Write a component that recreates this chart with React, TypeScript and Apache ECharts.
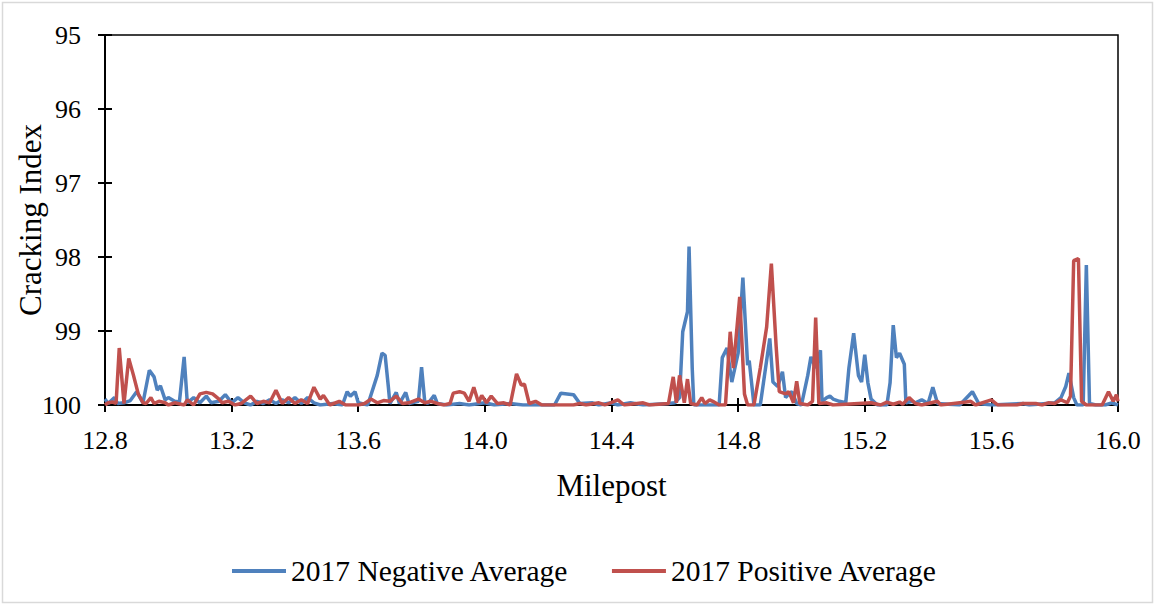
import React, { useEffect, useRef } from "react";
import * as echarts from "echarts";

const negMileposts = [12.80,12.81,12.83,12.84,12.86,12.88,12.90,12.92,12.94,12.955,12.965,12.975,12.99,13.00,13.02,13.035,13.05,13.06,13.08,13.10,13.12,13.135,13.16,13.18,13.20,13.22,13.24,13.26,13.28,13.30,13.32,13.34,13.36,13.38,13.40,13.42,13.44,13.46,13.48,13.52,13.55,13.565,13.575,13.59,13.60,13.63,13.66,13.675,13.685,13.695,13.70,13.72,13.73,13.75,13.76,13.79,13.80,13.81,13.82,13.84,13.85,13.88,13.92,13.95,14.00,14.03,14.08,14.12,14.22,14.24,14.26,14.28,14.30,14.34,14.36,14.40,14.42,14.46,14.50,14.58,14.60,14.615,14.625,14.64,14.645,14.655,14.66,14.74,14.75,14.765,14.78,14.80,14.815,14.83,14.835,14.85,14.87,14.88,14.90,14.91,14.925,14.94,14.95,14.96,14.97,14.985,15.00,15.02,15.03,15.045,15.06,15.065,15.08,15.09,15.10,15.12,15.14,15.15,15.165,15.18,15.19,15.20,15.21,15.22,15.24,15.27,15.28,15.29,15.30,15.31,15.325,15.33,15.35,15.36,15.38,15.40,15.415,15.43,15.50,15.54,15.56,15.60,15.70,15.72,15.80,15.82,15.835,15.845,15.86,15.87,15.89,15.90,15.91,15.93,15.96,15.98,16.00];
const negValues = [99.92,99.98,99.9,99.98,99.97,99.94,99.82,99.97,99.53,99.62,99.8,99.74,99.93,99.9,99.95,99.96,99.35,99.97,99.9,99.97,99.88,99.97,99.95,99.86,99.97,99.9,99.97,100,99.95,99.98,99.93,99.98,99.93,99.97,99.9,99.98,99.9,99.97,100,99.98,100,99.82,99.88,99.82,99.97,100,99.6,99.3,99.33,99.75,99.98,99.83,99.98,99.83,99.98,99.95,99.49,99.95,99.98,99.87,99.98,100,99.98,100,99.97,100,99.98,100,100,99.84,99.85,99.86,99.98,99.97,100,99.97,100,99.97,100,99.98,99.97,99.9,99.01,98.74,97.86,99.5,100,100,99.36,99.23,99.69,99.3,98.28,99.46,99.4,100,100,99.7,99.1,99.69,99.75,99.55,99.9,99.85,99.82,99.98,100,99.6,99.35,99.5,99.26,99.95,99.9,99.88,99.92,99.95,99.97,99.5,99.03,99.6,99.69,99.32,99.7,99.92,100,100,99.7,98.92,99.36,99.3,99.45,99.97,99.95,99.97,99.93,99.98,99.76,99.98,100,99.82,99.98,100,99.98,100,99.97,99.9,99.75,99.57,99.9,100,100,98.11,99.98,100,100,99.97,100];

const posMileposts = [12.80,12.81,12.825,12.835,12.845,12.86,12.875,12.89,12.905,12.92,12.93,12.945,12.955,12.97,12.99,13.00,13.02,13.05,13.06,13.08,13.10,13.12,13.14,13.16,13.17,13.19,13.21,13.23,13.26,13.28,13.30,13.32,13.34,13.36,13.38,13.40,13.42,13.44,13.46,13.48,13.49,13.51,13.54,13.56,13.60,13.62,13.64,13.66,13.68,13.70,13.72,13.74,13.76,13.79,13.81,13.83,13.85,13.87,13.89,13.90,13.92,13.935,13.95,13.965,13.98,13.99,14.005,14.02,14.04,14.06,14.08,14.10,14.115,14.125,14.14,14.16,14.18,14.28,14.30,14.32,14.36,14.38,14.42,14.44,14.50,14.52,14.58,14.595,14.605,14.615,14.63,14.64,14.65,14.67,14.685,14.695,14.71,14.72,14.74,14.76,14.775,14.785,14.805,14.82,14.83,14.85,14.87,14.89,14.905,14.92,14.93,14.95,14.96,14.975,14.985,14.995,15.02,15.035,15.045,15.055,15.08,15.10,15.22,15.25,15.27,15.29,15.31,15.32,15.34,15.36,15.38,15.43,15.44,15.52,15.535,15.55,15.60,15.62,15.68,15.70,15.74,15.76,15.78,15.80,15.82,15.84,15.85,15.86,15.875,15.885,15.90,15.95,15.97,15.985,15.995,16.00];
const posValues = [100,99.97,99.96,99.98,99.23,99.98,99.37,99.6,99.85,99.97,99.98,99.9,99.98,99.95,99.97,100,99.97,100,99.93,100,99.85,99.83,99.85,99.92,99.97,99.95,100,99.98,99.88,99.98,99.95,99.97,99.8,99.98,99.9,99.98,99.93,99.98,99.76,99.92,99.87,100,99.95,100,100,99.98,99.92,99.97,99.94,99.95,99.88,99.98,99.97,99.92,99.97,99.95,99.98,100,99.98,99.84,99.82,99.84,99.95,99.76,99.97,99.87,99.97,99.88,99.98,99.97,100,99.58,99.73,99.72,99.98,99.95,100,100,99.98,100,99.97,100,99.93,100,99.97,100,99.98,99.62,99.97,99.6,99.97,99.65,99.98,100,99.9,99.98,99.93,99.95,100,100,99.01,99.5,98.54,99.85,100,100,99.5,98.95,98.09,99.2,99.82,99.85,99.82,99.97,99.68,99.98,100,99.95,98.82,99.98,99.97,100,99.97,100,99.96,99.99,99.96,99.99,99.9,99.98,100,99.95,100,99.96,99.95,100,99.93,100,100,99.98,99.98,100,99.97,99.98,99.93,99.97,99.88,98.05,98.02,99.95,100,100,99.82,99.95,99.86,99.95];

const yTicks = [95, 96, 97, 98, 99, 100];
const seriesNames = ["2017 Negative Average", "2017 Positive Average"];

const zip = (xs: number[], ys: number[]) => xs.map((x, i) => [x, ys[i]]);

const FONT = "Liberation Serif";

export default function App() {
  const ref = useRef<HTMLDivElement>(null);
  useEffect(() => {
    if (!ref.current) return;
    const chart = echarts.init(ref.current, null, { renderer: "svg" });
    const axisText = { color: "#000", fontFamily: FONT, fontSize: 26 };
    const nameText = { color: "#000", fontFamily: FONT, fontSize: 31 };
    chart.setOption({
      animation: false,
      backgroundColor: "#fff",
      graphic: [
        {
          type: "rect",
          shape: { x: 2.5, y: 2.5, width: 1150, height: 600 },
          style: { fill: "none", stroke: "#d9d9d9", lineWidth: 1.5 },
          silent: true,
        },
      ],
      grid: {
        left: 105,
        right: 38,
        top: 35,
        bottom: 201,
        containLabel: false,
        outerBoundsMode: "none",
        show: true,
        borderColor: "#000",
        borderWidth: 1.5,
        backgroundColor: "transparent",
      },
      legend: {
        data: seriesNames,
        top: 551,
        left: 227,
        icon: "rect",
        itemWidth: 54,
        itemHeight: 4,
        itemGap: 43,
        textStyle: { color: "#000", fontFamily: FONT, fontSize: 29.5 },
      },
      xAxis: [
        {
          type: "value",
          min: 12.8,
          max: 16.0,
          interval: 0.4,
          position: "bottom",
          name: "Milepost",
          nameLocation: "middle",
          nameGap: 65,
          nameMoveOverlap: false,
          nameTextStyle: nameText,
          axisLine: { show: true, onZero: false, lineStyle: { color: "#000", width: 2 } },
          axisTick: { show: true, length: 7, lineStyle: { color: "#000", width: 2 } },
          axisLabel: { ...axisText, margin: 22, formatter: (v: number) => v.toFixed(1) },
          splitLine: { show: false },
        },
        {
          type: "value",
          min: 12.8,
          max: 16.0,
          interval: 0.4,
          position: "bottom",
          axisLine: { show: false },
          axisTick: { show: true, inside: true, length: 7, lineStyle: { color: "#000", width: 2 } },
          axisLabel: { show: false },
          splitLine: { show: false },
        },
      ],
      yAxis: [
        {
          type: "value",
          min: yTicks[0],
          max: yTicks[yTicks.length - 1],
          interval: 1,
          inverse: true,
          position: "left",
          name: "Cracking Index",
          nameLocation: "middle",
          nameGap: 59,
          nameMoveOverlap: false,
          nameTextStyle: nameText,
          axisLine: { show: true, onZero: false, lineStyle: { color: "#000", width: 2 } },
          axisTick: { show: true, length: 7, lineStyle: { color: "#000", width: 2 } },
          axisLabel: { ...axisText, margin: 24 },
          splitLine: { show: false },
        },
        {
          type: "value",
          min: yTicks[0],
          max: yTicks[yTicks.length - 1],
          interval: 1,
          inverse: true,
          position: "left",
          axisLine: { show: false },
          axisTick: { show: true, inside: true, length: 7, lineStyle: { color: "#000", width: 2 } },
          axisLabel: { show: false },
          splitLine: { show: false },
        },
      ],
      series: [
        {
          name: seriesNames[0],
          type: "line",
          xAxisIndex: 0,
          yAxisIndex: 0,
          data: zip(negMileposts, negValues),
          symbol: "none",
          lineStyle: { color: "#4F81BD", width: 3.5 },
          itemStyle: { color: "#4F81BD" },
        },
        {
          name: seriesNames[1],
          type: "line",
          xAxisIndex: 0,
          yAxisIndex: 0,
          data: zip(posMileposts, posValues),
          symbol: "none",
          lineStyle: { color: "#C0504D", width: 3.5 },
          itemStyle: { color: "#C0504D" },
        },
      ],
    });
    return () => chart.dispose();
  }, []);
  return (
    <div
      ref={ref}
      style={{ position: "absolute", left: 0, top: 0, width: 1156, height: 606 }}
    />
  );
}
